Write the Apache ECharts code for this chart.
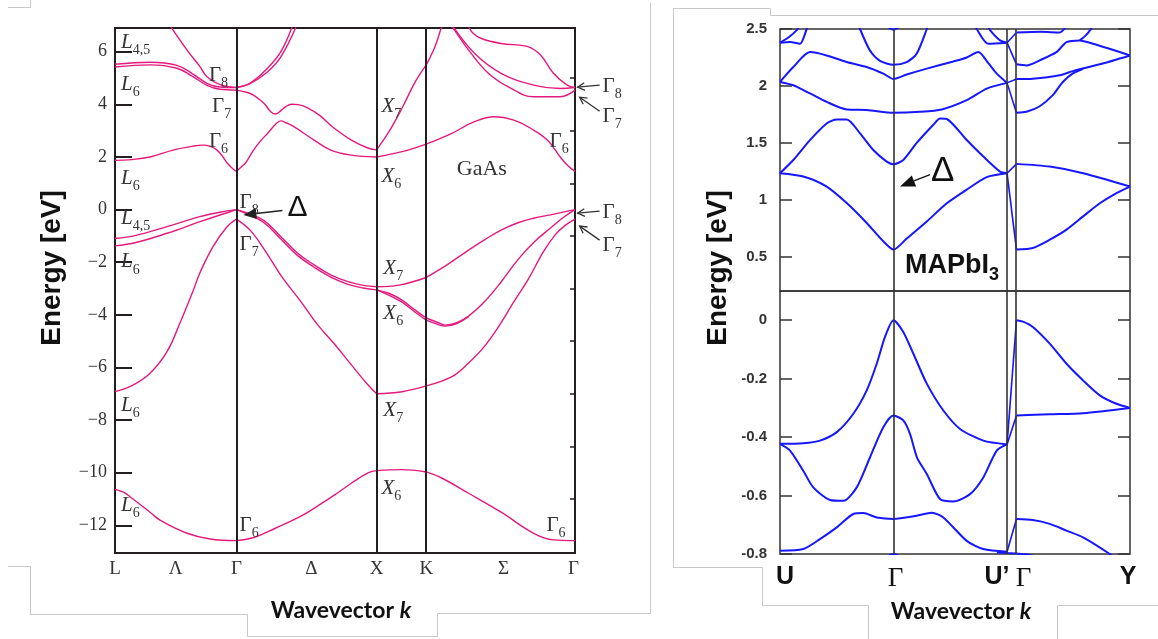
<!DOCTYPE html>
<html>
<head>
<meta charset="utf-8">
<script src="https://cdn.jsdelivr.net/npm/echarts@6.0.0/dist/echarts.min.js"></script>
<style>
  html, body { margin: 0; padding: 0; background: #fff; }
  #chart { width: 1158px; height: 639px; }
</style>
</head>
<body>
<div id="chart"></div>
<script>
// ===================== GaAs band structure (left panel) =====================
// path L–Γ–X–K–Γ, k measured in units of 2π/a
const gaasKPoints = [0, 0.866, 1.866, 2.22, 3.281];
const gaasTickPos = [0, 0.433, 0.866, 1.4, 1.866, 2.22, 2.772, 3.27];
const gaasTickLabels = ['L', 'Λ', 'Γ', 'Δ', 'X', 'K', 'Σ', 'Γ'];
const gaasEnergyTicks = [-12, -10, -8, -6, -4, -2, 0, 2, 4, 6];
const gaasMinorTicks = [-11, -9, -7, -5, -3, -1, 1, 3, 5];

// L → Γ  (Λ direction), points are [k, E in eV]
const gaasLambda = [
  [[0,1.87],[0.12,1.9],[0.25,2.0],[0.414,2.26],[0.556,2.41],[0.628,2.45],[0.68,2.4],[0.728,2.26],[0.77,2.0],[0.8,1.77],[0.84,1.55],[0.866,1.45]],
  [[0,5.52],[0.25,5.6],[0.442,5.48],[0.556,5.15],[0.656,4.8],[0.749,4.66],[0.866,4.64]],
  [[0,5.42],[0.25,5.5],[0.442,5.37],[0.556,5.05],[0.656,4.72],[0.749,4.57],[0.866,4.54]],
  [[0.385,7.05],[0.514,6.06],[0.606,5.43],[0.656,5.05],[0.749,4.75],[0.866,4.64]],
  [[0,-1.1],[0.15,-0.98],[0.371,-0.65],[0.606,-0.27],[0.799,-0.05],[0.866,0]],
  [[0,-1.38],[0.15,-1.25],[0.371,-0.9],[0.606,-0.46],[0.799,-0.12],[0.866,0]],
  [[0,-6.92],[0.128,-6.67],[0.25,-6.22],[0.371,-5.4],[0.464,-4.3],[0.556,-3.1],[0.606,-2.4],[0.699,-1.41],[0.799,-0.65],[0.866,-0.36]],
  [[0,-10.63],[0.064,-10.75],[0.128,-11.0],[0.25,-11.5],[0.321,-11.8],[0.514,-12.3],[0.678,-12.52],[0.866,-12.58]]
];

// Γ → X  (Δ direction)
const gaasDelta = [
  [[0.866,1.45],[0.9,1.62],[0.931,1.77],[0.988,2.26],[1.04,2.62],[1.089,2.9],[1.147,3.25],[1.183,3.37],[1.22,3.3],[1.276,3.15],[1.42,2.64],[1.542,2.25],[1.686,2.07],[1.866,2.0]],
  [[0.866,4.54],[0.945,4.45],[0.988,4.35],[1.06,4.05],[1.111,3.72],[1.147,3.63],[1.175,3.72],[1.22,3.92],[1.26,4.0],[1.305,3.99],[1.38,3.85],[1.46,3.58],[1.55,3.15],[1.686,2.64],[1.808,2.33],[1.866,2.27]],
  [[0.866,4.64],[0.967,4.8],[1.089,5.24],[1.183,5.8],[1.3,7.05]],
  [[0.866,4.64],[0.967,4.82],[1.075,5.3],[1.183,6.0],[1.27,7.05]],
  [[0.866,0],[0.943,-0.13],[1.063,-0.42],[1.183,-1.03],[1.303,-1.66],[1.423,-2.11],[1.542,-2.49],[1.662,-2.74],[1.77,-2.88],[1.866,-2.93]],
  [[0.866,0],[0.943,-0.17],[1.063,-0.5],[1.183,-1.12],[1.303,-1.75],[1.423,-2.2],[1.542,-2.58],[1.662,-2.84],[1.77,-2.98],[1.866,-3.05]],
  [[0.866,-0.36],[0.967,-0.8],[1.075,-1.6],[1.183,-2.5],[1.326,-3.5],[1.449,-4.4],[1.564,-5.1],[1.686,-5.9],[1.794,-6.6],[1.866,-7.0]],
  [[0.866,-12.58],[0.997,-12.45],[1.147,-12.1],[1.326,-11.65],[1.449,-11.25],[1.564,-10.85],[1.686,-10.4],[1.808,-10.0],[1.866,-9.92]]
];

// X → K
const gaasXK = [
  [[1.866,2.0],[2.047,2.2],[2.22,2.49]],
  [[1.866,2.27],[1.953,2.95],[2.047,3.85],[2.141,4.85],[2.22,5.5]],
  [[1.866,-2.93],[2.025,-2.87],[2.22,-2.58]],
  [[1.866,-3.05],[1.953,-3.18],[2.047,-3.44],[2.141,-3.82],[2.22,-4.12]],
  [[1.866,-3.05],[1.953,-3.25],[2.047,-3.52],[2.141,-3.9],[2.22,-4.2]],
  [[1.866,-7.0],[2.047,-6.92],[2.22,-6.7]],
  [[1.866,-9.92],[2.047,-9.88],[2.22,-9.97]]
];

// K → Γ  (Σ direction)
const gaasSigma = [
  [[2.22,2.49],[2.403,2.9],[2.564,3.34],[2.705,3.53],[2.845,3.4],[2.986,3.02],[3.084,2.64],[3.176,2.0],[3.225,1.69],[3.281,1.45]],
  [[2.22,5.5],[2.283,6.2],[2.33,6.95],[2.34,7.05]],
  [[2.39,7.05],[2.424,6.8],[2.522,6.06],[2.663,5.18],[2.803,4.67],[2.986,4.29],[3.176,4.29],[3.281,4.54]],
  [[2.4,7.05],[2.564,5.94],[2.754,5.18],[2.986,4.73],[3.176,4.6],[3.281,4.64]],
  [[2.52,7.0],[2.55,6.72],[2.614,6.5],[2.754,6.31],[2.944,6.19],[3.035,5.87],[3.127,5.18],[3.225,4.73],[3.281,4.64]],
  [[2.22,-2.58],[2.368,-2.1],[2.522,-1.54],[2.635,-1.15],[2.754,-0.78],[2.874,-0.5],[2.986,-0.33],[3.106,-0.2],[3.281,0]],
  [[2.22,-4.12],[2.311,-4.31],[2.354,-4.39],[2.438,-4.3],[2.522,-4.05],[2.635,-3.5],[2.754,-2.75],[2.874,-1.9],[2.986,-1.25],[3.106,-0.7],[3.197,-0.3],[3.281,0]],
  [[2.22,-4.2],[2.311,-4.38],[2.354,-4.43],[2.438,-4.33],[2.522,-4.07]],
  [[2.22,-6.7],[2.403,-6.35],[2.522,-5.83],[2.635,-5.2],[2.754,-4.3],[2.845,-3.5],[2.944,-2.68],[3.056,-1.6],[3.141,-0.95],[3.211,-0.6],[3.281,-0.36]],
  [[2.22,-9.97],[2.33,-10.2],[2.522,-10.78],[2.754,-11.5],[2.986,-12.3],[3.127,-12.55],[3.281,-12.58]]
];

// ===================== MAPbI3 band structure (right panel) =====================
// path U–Γ–U'|Γ–Y
const mapKPoints = [0, 1, 2, 2.083, 3.083];
const mapTickLabels = ['U', 'Γ', 'U’', 'Γ', 'Y'];
const mapUpperTicks = [0.5, 1, 1.5, 2, 2.5];
const mapLowerTicks = [-0.8, -0.6, -0.4, -0.2, 0];

// conduction bands, U → Γ → U'
const mapCondUG = [
  [[0,1.234],[0.205,1.205],[0.411,1.117],[0.588,0.972],[0.764,0.797],[0.91,0.636],[1,0.564],[1.116,0.66],[1.293,0.81],[1.469,0.97],[1.645,1.09],[1.821,1.2],[2,1.234]],
  [[0,1.234],[0.117,1.35],[0.264,1.525],[0.411,1.671],[0.5,1.706],[0.588,1.706],[0.705,1.584],[0.822,1.438],[0.94,1.336],[1,1.313],[1.086,1.35],[1.204,1.5],[1.351,1.66],[1.41,1.715],[1.469,1.71],[1.645,1.525],[1.791,1.38],[1.938,1.248],[2,1.234]],
  [[0,2.035],[0.117,2.006],[0.264,1.934],[0.411,1.86],[0.588,1.794],[0.764,1.79],[1,1.764],[1.233,1.773],[1.425,1.794],[1.645,1.875],[1.821,1.977],[2,2.027]],
  [[0,2.035],[0.117,2.166],[0.264,2.297],[0.411,2.268],[0.588,2.21],[0.764,2.166],[0.91,2.108],[1,2.061],[1.116,2.1],[1.293,2.152],[1.527,2.215],[1.645,2.25],[1.747,2.297],[1.835,2.2],[1.909,2.108],[2,2.027]],
  [[0.69,2.56],[0.705,2.5],[0.793,2.31],[0.881,2.22],[1,2.187],[1.116,2.21],[1.204,2.283],[1.293,2.5],[1.31,2.56]],
  [[0,2.38],[0.088,2.385],[0.176,2.37],[0.235,2.5],[0.25,2.54]],
  [[0,2.38],[0.08,2.43],[0.147,2.49],[0.17,2.53]],
  [[1.72,2.54],[1.733,2.5],[1.835,2.37],[2,2.38]],
  [[1.83,2.53],[1.85,2.49],[1.938,2.4],[2,2.38]],
  [[0.93,2.53],[1,2.495],[1.07,2.53]]
];
// conduction bands, U' → Γ
const mapCondJump = [
  [[2,1.234],[2.083,0.564]],
  [[2,1.234],[2.083,1.316]],
  [[2,2.027],[2.083,1.764]],
  [[2,2.027],[2.083,2.061]],
  [[2,2.38],[2.083,2.19]],
  [[2,2.38],[2.083,2.47]]
];
// conduction bands, Γ → Y
const mapCondGY = [
  [[2.083,0.564],[2.227,0.578],[2.376,0.65],[2.524,0.739],[2.67,0.855],[2.817,0.97],[2.964,1.06],[3.083,1.117]],
  [[2.083,1.316],[2.376,1.292],[2.67,1.234],[3.083,1.117]],
  [[2.083,1.764],[2.171,1.773],[2.288,1.822],[2.403,1.919],[2.491,2.035],[2.58,2.11],[2.67,2.15]],
  [[2.083,2.061],[2.227,2.064],[2.464,2.094],[2.58,2.13],[2.817,2.19],[3.083,2.268]],
  [[2.083,2.19],[2.171,2.18],[2.288,2.225],[2.435,2.297],[2.524,2.385],[2.641,2.4],[2.758,2.37],[3.083,2.268]],
  [[2.083,2.47],[2.3,2.475],[2.464,2.47],[2.52,2.52]],
  [[2.641,2.4],[2.7,2.45],[2.76,2.53]]
];

// valence bands, U → Γ → U'
const mapValUG = [
  [[0,-0.423],[0.205,-0.421],[0.352,-0.412],[0.5,-0.383],[0.646,-0.32],[0.764,-0.24],[0.852,-0.149],[0.925,-0.057],[1,0],[1.086,-0.04],[1.174,-0.114],[1.293,-0.217],[1.439,-0.309],[1.586,-0.372],[1.791,-0.412],[2,-0.425]],
  [[0,-0.423],[0.088,-0.446],[0.205,-0.515],[0.293,-0.572],[0.44,-0.615],[0.558,-0.618],[0.676,-0.572],[0.793,-0.469],[0.91,-0.366],[1,-0.326],[1.086,-0.343],[1.145,-0.389],[1.207,-0.47],[1.293,-0.526],[1.41,-0.612],[1.527,-0.62],[1.674,-0.595],[1.791,-0.538],[1.909,-0.446],[2,-0.425]],
  [[0,-0.789],[0.205,-0.783],[0.352,-0.749],[0.5,-0.709],[0.646,-0.663],[0.734,-0.66],[0.852,-0.675],[1,-0.68],[1.204,-0.669],[1.337,-0.659],[1.439,-0.675],[1.645,-0.755],[1.791,-0.783],[2,-0.792]],
  [[0.9,-0.82],[1,-0.8],[1.1,-0.82]]
];
// valence bands, U' → Γ
const mapValJump = [
  [[2,-0.425],[2.083,0]],
  [[2,-0.425],[2.083,-0.326]],
  [[2,-0.792],[2.083,-0.68]]
];
// valence bands, Γ → Y
const mapValGY = [
  [[2.083,0],[2.14,-0.005],[2.227,-0.023],[2.376,-0.08],[2.524,-0.149],[2.67,-0.206],[2.817,-0.257],[2.964,-0.286],[3.083,-0.3]],
  [[2.083,-0.326],[2.376,-0.322],[2.67,-0.318],[3.083,-0.3]],
  [[2.083,-0.68],[2.227,-0.684],[2.376,-0.697],[2.524,-0.72],[2.67,-0.743],[2.905,-0.8],[2.95,-0.815]],
  [[1.91,-0.795],[2,-0.797],[2.083,-0.798],[2.2,-0.803],[2.3,-0.815]]
];

// ===================== drawing =====================
const PINK = '#e5197d';
const BLUE = '#1616ff';
const FRAME = '#231f20';
const DARK = '#333';
const SERIF = "'Liberation Serif', 'Times New Roman', serif";
const SANS = "'Liberation Sans', Arial, sans-serif";

const chart = echarts.init(document.getElementById('chart'), null, { renderer: 'canvas', width: 1158, height: 639 });

function nearestIndex(list, v) {
  let best = 0;
  for (let i = 1; i < list.length; i++) {
    if (Math.abs(list[i] - v) < Math.abs(list[best] - v)) best = i;
  }
  return best;
}

function bands(curves, xi, yi, color, width, smooth) {
  return curves.map(pts => ({
    type: 'line', xAxisIndex: xi, yAxisIndex: yi, data: pts,
    smooth: smooth, symbol: 'none', showSymbol: false, clip: true,
    lineStyle: { color: color, width: width }, silent: true, animation: false,
    emphasis: { disabled: true }, z: 3
  }));
}

function withVLines(seriesItem, xs, color, width) {
  seriesItem.markLine = {
    silent: true, symbol: ['none', 'none'], label: { show: false }, animation: false,
    emphasis: { disabled: true },
    lineStyle: { color: color, width: width, type: 'solid', opacity: 1 },
    data: xs.map(x => ({ xAxis: x }))
  };
  return seriesItem;
}

const gaasSeries = [].concat(
  bands(gaasLambda, 0, 0, PINK, 1.4, 0.4),
  bands(gaasDelta, 0, 0, PINK, 1.4, 0.4),
  bands(gaasXK, 0, 0, PINK, 1.4, 0.4),
  bands(gaasSigma, 0, 0, PINK, 1.4, 0.4)
);
withVLines(gaasSeries[0], gaasKPoints.slice(1, 4), FRAME, 2);

const upperSeries = [].concat(
  bands(mapCondUG, 1, 2, BLUE, 2, 0.25),
  bands(mapCondJump, 1, 2, BLUE, 1.6, false),
  bands(mapCondGY, 1, 2, BLUE, 2, 0.25)
);
withVLines(upperSeries[0], mapKPoints.slice(1, 4), DARK, 1.6);

const lowerSeries = [].concat(
  bands(mapValUG, 2, 4, BLUE, 2, 0.25),
  bands(mapValJump, 2, 4, BLUE, 1.6, false),
  bands(mapValGY, 2, 4, BLUE, 2, 0.25)
);
withVLines(lowerSeries[0], mapKPoints.slice(1, 4), DARK, 1.6);

const mapXRich = {
  t0: { fontFamily: SANS, fontWeight: 'bold', fontSize: 25, color: '#111', padding: [0, 0, 0, 10] },
  t1: { fontFamily: SERIF, fontSize: 27, color: '#111', padding: [0, 0, 0, 4] },
  t2: { fontFamily: SANS, fontWeight: 'bold', fontSize: 25, color: '#111', padding: [0, 20, 0, 0] },
  t3: { fontFamily: SERIF, fontSize: 27, color: '#111', padding: [0, 0, 0, 14] },
  t4: { fontFamily: SANS, fontWeight: 'bold', fontSize: 25, color: '#111', padding: [0, 4, 0, 0] }
};

const mapTickLabelStyle = { fontFamily: SANS, fontWeight: 'bold', fontSize: 15, color: '#333', margin: 13 };

const option = {
  animation: false,
  backgroundColor: '#ffffff',
  grid: [
    { left: 115, top: 28, width: 460, height: 525, show: true, borderColor: FRAME, borderWidth: 2, backgroundColor: 'transparent', containLabel: false, outerBoundsMode: 'none' },
    { left: 780, top: 29, width: 350, height: 262, show: true, borderColor: DARK, borderWidth: 1.5, backgroundColor: 'transparent', containLabel: false, outerBoundsMode: 'none' },
    { left: 780, top: 291, width: 350, height: 263, show: true, borderColor: DARK, borderWidth: 1.5, backgroundColor: 'transparent', containLabel: false, outerBoundsMode: 'none' }
  ],
  xAxis: [
    {
      gridIndex: 0, type: 'value', min: 0, max: 3.281,
      axisLine: { show: false }, axisTick: { show: false }, splitLine: { show: false },
      axisLabel: {
        customValues: gaasTickPos,
        formatter: v => gaasTickLabels[nearestIndex(gaasTickPos, v)],
        fontFamily: SERIF, fontSize: 19, color: '#333', margin: 7
      }
    },
    {
      gridIndex: 1, type: 'value', min: 0, max: 3.083,
      axisLine: { show: false }, axisTick: { show: false }, splitLine: { show: false }, axisLabel: { show: false }
    },
    {
      gridIndex: 2, type: 'value', min: 0, max: 3.083,
      axisLine: { show: false }, axisTick: { show: false }, splitLine: { show: false },
      axisLabel: {
        customValues: mapKPoints,
        formatter: v => { const i = nearestIndex(mapKPoints, v); return '{t' + i + '|' + mapTickLabels[i] + '}'; },
        rich: mapXRich, margin: 11
      }
    }
  ],
  yAxis: [
    {
      gridIndex: 0, type: 'value', min: -13.05, max: 6.9,
      axisLine: { show: false }, splitLine: { show: false },
      axisTick: { customValues: gaasEnergyTicks, inside: true, length: 17, lineStyle: { color: FRAME, width: 2 } },
      axisLabel: {
        customValues: gaasEnergyTicks,
        formatter: v => String(v).replace('-', '\u2212'),
        fontFamily: SERIF, fontSize: 18, color: '#333', margin: 8
      }
    },
    {
      gridIndex: 0, type: 'value', min: -13.05, max: 6.9,
      axisLine: { show: false }, splitLine: { show: false }, axisLabel: { show: false },
      axisTick: { customValues: gaasMinorTicks, inside: true, length: 5, lineStyle: { color: FRAME, width: 1.5 } }
    },
    {
      gridIndex: 1, type: 'value', min: 0.2, max: 2.5,
      axisLine: { show: false }, splitLine: { show: false },
      axisTick: { customValues: mapUpperTicks, inside: true, length: 12, lineStyle: { color: DARK, width: 1.5 } },
      axisLabel: Object.assign({ customValues: mapUpperTicks }, mapTickLabelStyle)
    },
    {
      gridIndex: 1, type: 'value', min: 0.2, max: 2.5, position: 'right',
      axisLine: { show: false }, splitLine: { show: false }, axisLabel: { show: false },
      axisTick: { customValues: mapUpperTicks, inside: true, length: 12, lineStyle: { color: DARK, width: 1.5 } }
    },
    {
      gridIndex: 2, type: 'value', min: -0.8, max: 0.1,
      axisLine: { show: false }, splitLine: { show: false },
      axisTick: { customValues: mapLowerTicks, inside: true, length: 12, lineStyle: { color: DARK, width: 1.5 } },
      axisLabel: Object.assign({ customValues: mapLowerTicks }, mapTickLabelStyle)
    },
    {
      gridIndex: 2, type: 'value', min: -0.8, max: 0.1, position: 'right',
      axisLine: { show: false }, splitLine: { show: false }, axisLabel: { show: false },
      axisTick: { customValues: mapLowerTicks, inside: true, length: 12, lineStyle: { color: DARK, width: 1.5 } }
    }
  ],
  series: [].concat(gaasSeries, upperSeries, lowerSeries)
};

chart.setOption(option);

// ---------- annotations ----------
const toGaas = (k, e) => chart.convertToPixel({ xAxisIndex: 0, yAxisIndex: 0 }, [k, e]);
const toUpper = (k, e) => chart.convertToPixel({ xAxisIndex: 1, yAxisIndex: 2 }, [k, e]);

const bandRich = {
  it: { fontFamily: SERIF, fontSize: 21, fontStyle: 'italic', fill: '#333', lineHeight: 30 },
  up: { fontFamily: SERIF, fontSize: 21, fill: '#333', lineHeight: 30 },
  sub: { fontFamily: SERIF, fontSize: 14, fill: '#333', lineHeight: 14, verticalAlign: 'bottom' }
};

// symmetry labels: [symbol, subscript, k, E] with the text's left edge at k
const gaasSymmetryLabels = [
  ['L', '4,5', 0.043, 6.36], ['L', '6', 0.043, 4.77],
  ['Γ', '8', 0.67, 5.11], ['Γ', '7', 0.692, 3.93], ['Γ', '6', 0.67, 2.6],
  ['L', '6', 0.043, 1.2], ['Γ', '8', 0.888, 0.26], ['L', '4,5', 0.043, -0.32],
  ['Γ', '7', 0.888, -1.31], ['L', '6', 0.043, -1.99], ['L', '6', 0.043, -7.43],
  ['L', '6', 0.043, -11.23], ['Γ', '6', 0.888, -11.99],
  ['X', '7', 1.9, 3.93], ['X', '6', 1.9, 1.27], ['X', '7', 1.914, -2.22],
  ['X', '6', 1.914, -3.93], ['X', '7', 1.914, -7.62], ['X', '6', 1.9, -10.58],
  ['Γ', '6', 3.1, 2.6], ['Γ', '6', 3.077, -11.99]
];
// labels to the right of the frame with arrows pointing at the Γ levels
const gaasGammaPointers = [
  ['Γ', '8', 3.478, 4.69, 'flat'], ['Γ', '7', 3.478, 3.55, 'up'],
  ['Γ', '8', 3.478, -0.1, 'flat'], ['Γ', '7', 3.478, -1.35, 'up']
];

const graphics = [];

function bandLabel(sym, sub, x, y) {
  const main = sym === 'Γ' ? 'up' : 'it';
  graphics.push({
    type: 'text', x: x, y: y, silent: true, z: 20,
    style: { text: '{' + main + '|' + sym + '}{sub|' + sub + '}', rich: bandRich, align: 'left', verticalAlign: 'middle' }
  });
}

gaasSymmetryLabels.forEach(l => {
  const p = toGaas(l[2], l[3]);
  bandLabel(l[0], l[1], p[0], p[1]);
});

function openArrow(x1, y1, x2, y2, color, width) {
  const ang = Math.atan2(y2 - y1, x2 - x1);
  const len = 8, spread = 0.5;
  graphics.push({ type: 'line', silent: true, z: 20, shape: { x1: x1, y1: y1, x2: x2, y2: y2 }, style: { stroke: color, lineWidth: width } });
  graphics.push({
    type: 'polyline', silent: true, z: 20,
    shape: { points: [
      [x2 - len * Math.cos(ang - spread), y2 - len * Math.sin(ang - spread)],
      [x2, y2],
      [x2 - len * Math.cos(ang + spread), y2 - len * Math.sin(ang + spread)]
    ] },
    style: { stroke: color, lineWidth: width, fill: 'none' }
  });
}

function solidArrow(x1, y1, x2, y2, color, width, headLen, headHalf) {
  const ang = Math.atan2(y2 - y1, x2 - x1);
  const bx = x2 - headLen * Math.cos(ang), by = y2 - headLen * Math.sin(ang);
  graphics.push({ type: 'line', silent: true, z: 20, shape: { x1: x1, y1: y1, x2: bx, y2: by }, style: { stroke: color, lineWidth: width } });
  graphics.push({
    type: 'polygon', silent: true, z: 20,
    shape: { points: [
      [x2, y2],
      [bx + headHalf * Math.sin(ang), by - headHalf * Math.cos(ang)],
      [bx - headHalf * Math.sin(ang), by + headHalf * Math.cos(ang)]
    ] },
    style: { fill: color }
  });
}

gaasGammaPointers.forEach(l => {
  const p = toGaas(l[2], l[3]);
  bandLabel(l[0], l[1], p[0], p[1]);
  if (l[4] === 'flat') openArrow(p[0] - 3, p[1] - 1, p[0] - 25, p[1] + 1, '#333', 1.3);
  else openArrow(p[0] - 3, p[1] - 5, p[0] - 23, p[1] - 19, '#333', 1.3);
});

// Δ pointer in the GaAs panel
(function () {
  const tip = toGaas(0.916, -0.21);
  const tail = [tip[0] + 39, tip[1] - 4.5];
  solidArrow(tail[0], tail[1], tip[0], tip[1], '#222', 1.5, 13, 5.5);
  graphics.push({ type: 'text', x: tail[0] + 5, y: tail[1] - 3, silent: true, z: 20,
    style: { text: 'Δ', fontFamily: SANS, fontSize: 30, fill: '#111', align: 'left', verticalAlign: 'middle' } });
  const g = toGaas(2.438, 1.54);
  graphics.push({ type: 'text', x: g[0], y: g[1], silent: true, z: 20,
    style: { text: 'GaAs', fontFamily: SERIF, fontSize: 22, fill: '#333', align: 'left', verticalAlign: 'middle' } });
})();

// Δ pointer and compound name in the MAPbI3 panel
(function () {
  const tip = toUpper(1.057, 1.118);
  const tail = [tip[0] + 30, tip[1] - 11.7];
  solidArrow(tail[0], tail[1], tip[0], tip[1], '#111', 1.3, 15, 6);
  graphics.push({ type: 'text', x: tail[0] + 1, y: tail[1] - 3, silent: true, z: 20,
    style: { text: 'Δ', fontFamily: SANS, fontSize: 35, fill: '#111', align: 'left', verticalAlign: 'middle' } });
  const m = toUpper(1.101, 0.424);
  graphics.push({ type: 'text', x: m[0], y: m[1], silent: true, z: 20,
    style: {
      text: '{m|MAPbI}{s|3}', align: 'left', verticalAlign: 'middle',
      rich: {
        m: { fontFamily: SANS, fontWeight: 'bold', fontSize: 27, fill: '#111', lineHeight: 38 },
        s: { fontFamily: SANS, fontWeight: 'bold', fontSize: 18, fill: '#111', lineHeight: 18, verticalAlign: 'bottom' }
      }
    } });
})();

// axis titles
function axisTitle(x, y, rotated, text, rich, size) {
  graphics.push({
    type: 'text', x: x, y: y, rotation: rotated ? Math.PI / 2 : 0, silent: true, z: 20,
    style: rich
      ? { text: text, rich: rich, align: 'center', verticalAlign: 'middle' }
      : { text: text, fontFamily: SANS, fontWeight: 'bold', fontSize: size, fill: '#111', align: 'center', verticalAlign: 'middle' }
  });
}
const waveRich = {
  a: { fontFamily: "'Lato', 'Liberation Sans', sans-serif", fontWeight: 'bold', fontSize: 23, fill: '#111' },
  k: { fontFamily: "'Lato', 'Liberation Sans', sans-serif", fontWeight: 'bold', fontStyle: 'italic', fontSize: 23, fill: '#111' }
};
axisTitle(52, 268, true, 'Energy [eV]', null, 28);
axisTitle(718, 268, true, 'Energy [eV]', null, 28);
axisTitle(341, 611, false, '{a|Wavevector }{k|k}', waveRich);
axisTitle(961, 612, false, '{a|Wavevector }{k|k}', waveRich);

// light page frame around both panels
const frameLines = [
  [[8, 7.5], [30.5, 7.5], [30.5, 0]],
  [[8, 566.5], [30.5, 566.5], [30.5, 614.5], [247.5, 614.5], [247.5, 636.5], [437.5, 636.5], [437.5, 613.5], [650.5, 613.5], [650.5, 3]],
  [[673.5, 567.5], [673.5, 8.5], [770.5, 8.5], [770.5, 15.5], [1158, 15.5]],
  [[673.5, 567.5], [762.5, 567.5], [762.5, 605.5], [868.5, 605.5], [868.5, 639]],
  [[1057.5, 639], [1057.5, 605.5], [1158, 605.5]]
];
frameLines.forEach(pts => graphics.push({
  type: 'polyline', silent: true, z: 1, shape: { points: pts },
  style: { stroke: '#c8c8c8', lineWidth: 1, fill: 'none' }
}));

chart.setOption({ graphic: graphics });
</script>
</body>
</html>
